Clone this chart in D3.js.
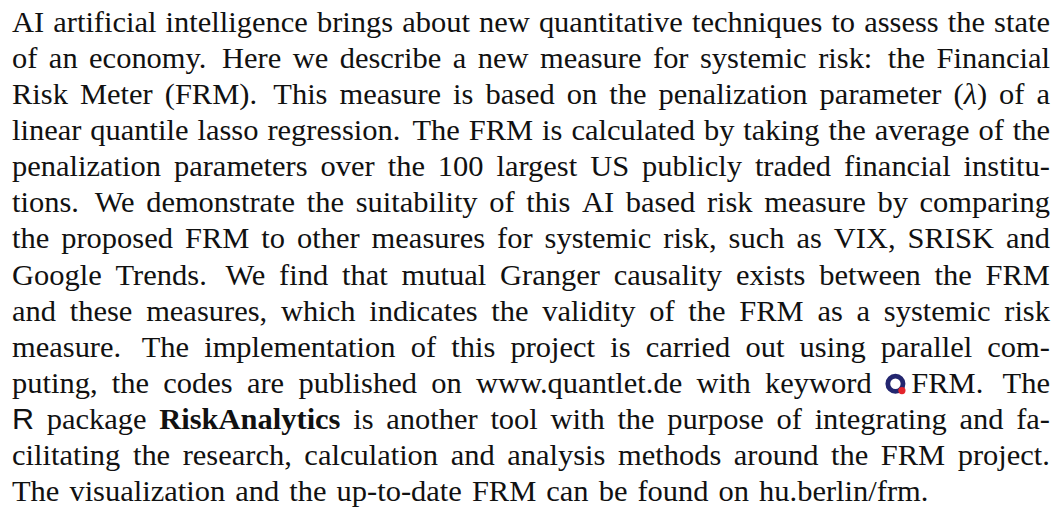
<!DOCTYPE html>
<html>
<head>
<meta charset="utf-8">
<script src="https://cdn.jsdelivr.net/npm/d3@7"></script>
<style>
  body { margin: 0; background: #fff; }
</style>
</head>
<body>
<div id="chart"></div>
<script>
// ----------------------------------------
// TEXT DATA
// markup: *x* italic, **x** bold, ~x~ sans serif, @ quantlet logo
var lines = [
  "AI artificial intelligence brings about new quantitative techniques to assess the state",
  "of an economy. Here we describe a new measure for systemic risk: the Financial",
  "Risk Meter (FRM). This measure is based on the penalization parameter (*λ*) of a",
  "linear quantile lasso regression. The FRM is calculated by taking the average of the",
  "penalization parameters over the 100 largest US publicly traded financial institu-",
  "tions. We demonstrate the suitability of this AI based risk measure by comparing",
  "the proposed FRM to other measures for systemic risk, such as VIX, SRISK and",
  "Google Trends. We find that mutual Granger causality exists between the FRM",
  "and these measures, which indicates the validity of the FRM as a systemic risk",
  "measure. The implementation of this project is carried out using parallel com-",
  "puting, the codes are published on www.quantlet.de with keyword @FRM. The",
  "~R~ package **RiskAnalytics** is another tool with the purpose of integrating and fa-",
  "cilitating the research, calculation and analysis methods around the FRM project.",
  "The visualization and the up-to-date FRM can be found on hu.berlin/frm."
];
var logoColors = ["#23266f", "#e3242b"];

// ----------------------------------------
// LAYOUT
var width = 1062;
var height = 510;
var fontSize = 30;
var left = 12;
var right = 1050;
var minGap = 5;
var targetGap = 12.5;  // typical stretched TeX space
var lastGap = 10;

var y = d3.scaleLinear()
  .domain([0, lines.length - 1])
  .range([32, 501]);

var svg = d3.select("#chart").append("svg")
  .attr("width", width)
  .attr("height", height)
  .style("font-family", "'Liberation Serif', 'Times New Roman', serif")
  .style("font-size", fontSize + "px")
  .attr("fill", "#111");

function parseWord(w) {
  return w.split(/(\*\*[^*]+\*\*|\*[^*]+\*|~[^~]+~|@)/)
    .filter(function (s) { return s.length; })
    .map(function (s) {
      if (s === "@") return { type: "logo" };
      if (s.slice(0, 2) === "**") return { type: "bold", t: s.slice(2, -2) };
      if (s[0] === "*") return { type: "italic", t: s.slice(1, -1) };
      if (s[0] === "~") return { type: "sans", t: s.slice(1, -1) };
      return { type: "normal", t: s };
    });
}

var logos = [];

// draw one word at local 0, return its width
function drawWord(g, pieces) {
  var x = 0;
  pieces.forEach(function (p) {
    if (p.type === "logo") {
      var lg = g.append("g").attr("transform", "translate(" + x + ",0)");
      lg.append("circle")
        .attr("cx", 9.5).attr("cy", -9).attr("r", 7.6)
        .attr("fill", "none")
        .attr("stroke", logoColors[0])
        .attr("stroke-width", 4.8);
      lg.append("circle")
        .attr("cx", 16).attr("cy", -2.2).attr("r", 3.6)
        .attr("fill", logoColors[1]);
      logos.push({ g: lg, x: x });
      x += 25;
      return;
    }
    var t = g.append("text").attr("x", x).attr("y", 0).text(p.t);
    if (p.type === "bold") t.attr("font-weight", "bold");
    if (p.type === "italic") t.attr("font-style", "italic");
    if (p.type === "sans") t.style("font-family", "'Liberation Sans', Arial, sans-serif");
    x += t.node().getComputedTextLength();
  });
  return x;
}

var rows = lines.map(function (line, i) {
  var words = line.split(" ");
  var lineG = svg.append("g");
  var widths = [];
  var groups = words.map(function (w) {
    var g = lineG.append("g");
    logos.length = 0;
    widths.push(drawWord(g, parseWord(w)));
    return { g: g, logos: logos.slice() };
  });
  // sentence ends get a bit more space, as TeX does
  var weights = words.slice(0, -1).map(function (w) {
    return /[.:]$/.test(w) ? 1.35 : 1;
  });
  return {
    g: lineG, groups: groups, widths: widths, weights: weights,
    sumW: d3.sum(widths), sumWeights: d3.sum(weights),
    isLast: i === lines.length - 1
  };
});

// one horizontal stretch for all glyphs so that spaces look like TeX's
var avail = right - left;
var kWanted = d3.median(rows.filter(function (r) { return !r.isLast; }), function (r) {
  return (avail - targetGap * r.sumWeights) / r.sumW;
});

rows.forEach(function (r, i) {
  var k = kWanted;
  var gap;
  if (r.isLast) {
    gap = lastGap;
  } else {
    var kMax = (avail - minGap * r.sumWeights) / r.sumW;
    k = Math.min(kWanted, kMax);
    gap = (avail - r.sumW * k) / r.sumWeights;
  }
  // gaps are in screen pixels, words scaled by k
  var x = 0;
  r.groups.forEach(function (o, j) {
    o.g.attr("transform", "translate(" + x + ",0) scale(" + k + ",1)");
    o.logos.forEach(function (l) {
      l.g.attr("transform", "translate(" + l.x + ",0) scale(" + (1 / k) + ",1)");
    });
    x += r.widths[j] * k + (j < r.weights.length ? gap * r.weights[j] : 0);
  });
  r.g.attr("transform", "translate(" + left + "," + y(i) + ")");
});
</script>
</body>
</html>
